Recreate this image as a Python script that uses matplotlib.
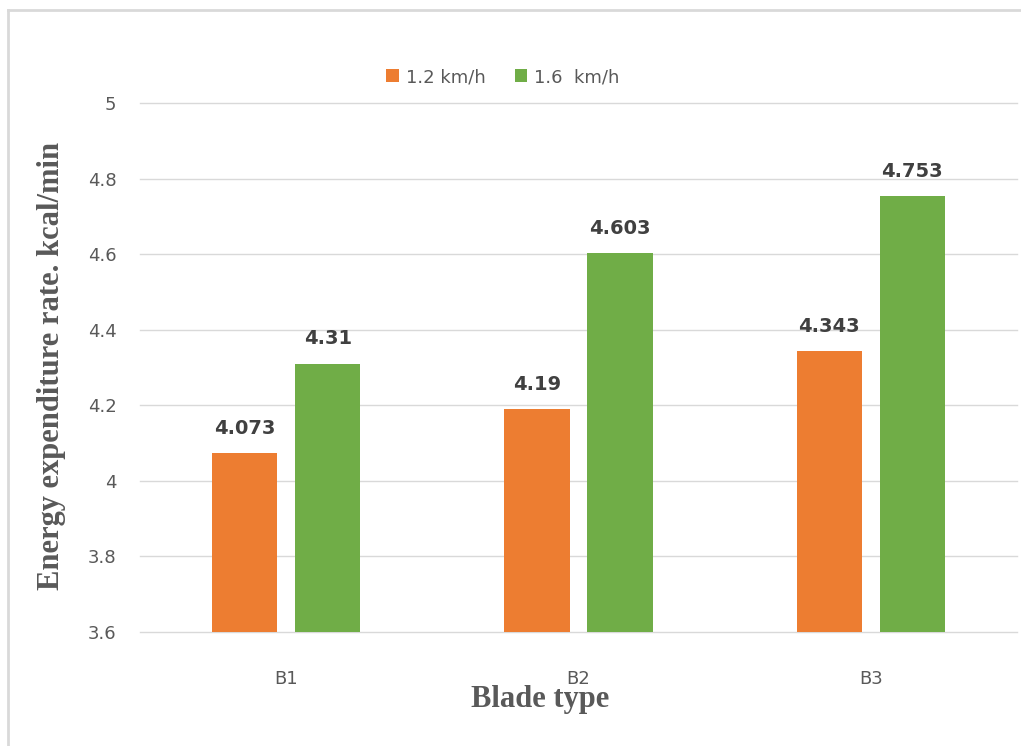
import numpy as np
import matplotlib.pyplot as plt
from matplotlib.lines import Line2D

# values
blades = ["B1", "B2", "B3"]
speed_labels = ["1.2 km/h", "1.6  km/h"]
rate_slow = [4.073, 4.19, 4.343]
rate_fast = [4.31, 4.603, 4.753]
y_ticks = [3.6, 3.8, 4.0, 4.2, 4.4, 4.6, 4.8, 5.0]
y_tick_labels = ["3.6", "3.8", "4", "4.2", "4.4", "4.6", "4.8", "5"]

W, H = 1021, 746
fig = plt.figure(figsize=(W / 100, H / 100), dpi=100, facecolor="white")
ax = fig.add_axes([140 / W, 1 - 632 / H, (1017 - 140) / W, (632 - 103) / H])

x = np.arange(len(blades))
bw = 0.223
off = 0.142
b1 = ax.bar(x - off, rate_slow, bw, color="#ED7D31", label=speed_labels[0], zorder=2)
b2 = ax.bar(x + off, rate_fast, bw, color="#70AD47", label=speed_labels[1], zorder=2)

for bars in (b1, b2):
    for r in bars:
        v = r.get_height()
        ax.annotate(f"{v:g}", (r.get_x() + r.get_width() / 2, v),
                    xytext=(0, 11), textcoords="offset points",
                    ha="center", va="bottom", fontsize=14, fontweight="bold",
                    color="#404040")

ax.set_ylim(3.6, 5.0)
ax.set_xlim(-0.5, 2.5)
ax.set_yticks(y_ticks)
ax.set_yticklabels(y_tick_labels)
ax.set_xticks(x)
ax.set_xticklabels(blades)
ax.tick_params(axis="y", length=0, pad=17, labelsize=13, labelcolor="#595959")
ax.tick_params(axis="x", length=0, pad=27, labelsize=13, labelcolor="#595959")
ax.grid(axis="y", color="#D9D9D9", linewidth=1, zorder=0)
for gl in ax.get_ygridlines():
    gl.set_clip_on(False)
for s in ax.spines.values():
    s.set_visible(False)

fig.text(52 / W, 1 - 366 / H, "Energy expenditure rate. kcal/min", rotation=90,
         ha="center", va="center", fontsize=22, fontweight="bold",
         family="Liberation Serif", color="#595959")
fig.text(540 / W, 1 - 700 / H, "Blade type", ha="center", va="center",
         fontsize=22, fontweight="bold", family="Liberation Serif", color="#595959")

leg = fig.legend(handles=[b1, b2], loc="center", bbox_to_anchor=(503 / W, 1 - 77 / H),
                 ncol=2, frameon=False, fontsize=13, handlelength=0.7, handleheight=0.7,
                 handletextpad=0.4, columnspacing=1.6)
for t in leg.get_texts():
    t.set_color("#595959")

# light frame around the chart area (left and top edges visible)
fig.add_artist(Line2D([8 / W, 8 / W], [0, 1 - 10 / H], transform=fig.transFigure,
                      color="#D9D9D9", linewidth=2))
fig.add_artist(Line2D([8 / W, 1], [1 - 10 / H, 1 - 10 / H], transform=fig.transFigure,
                      color="#D9D9D9", linewidth=2))

fig.savefig("out.png", dpi=100, facecolor="white")
